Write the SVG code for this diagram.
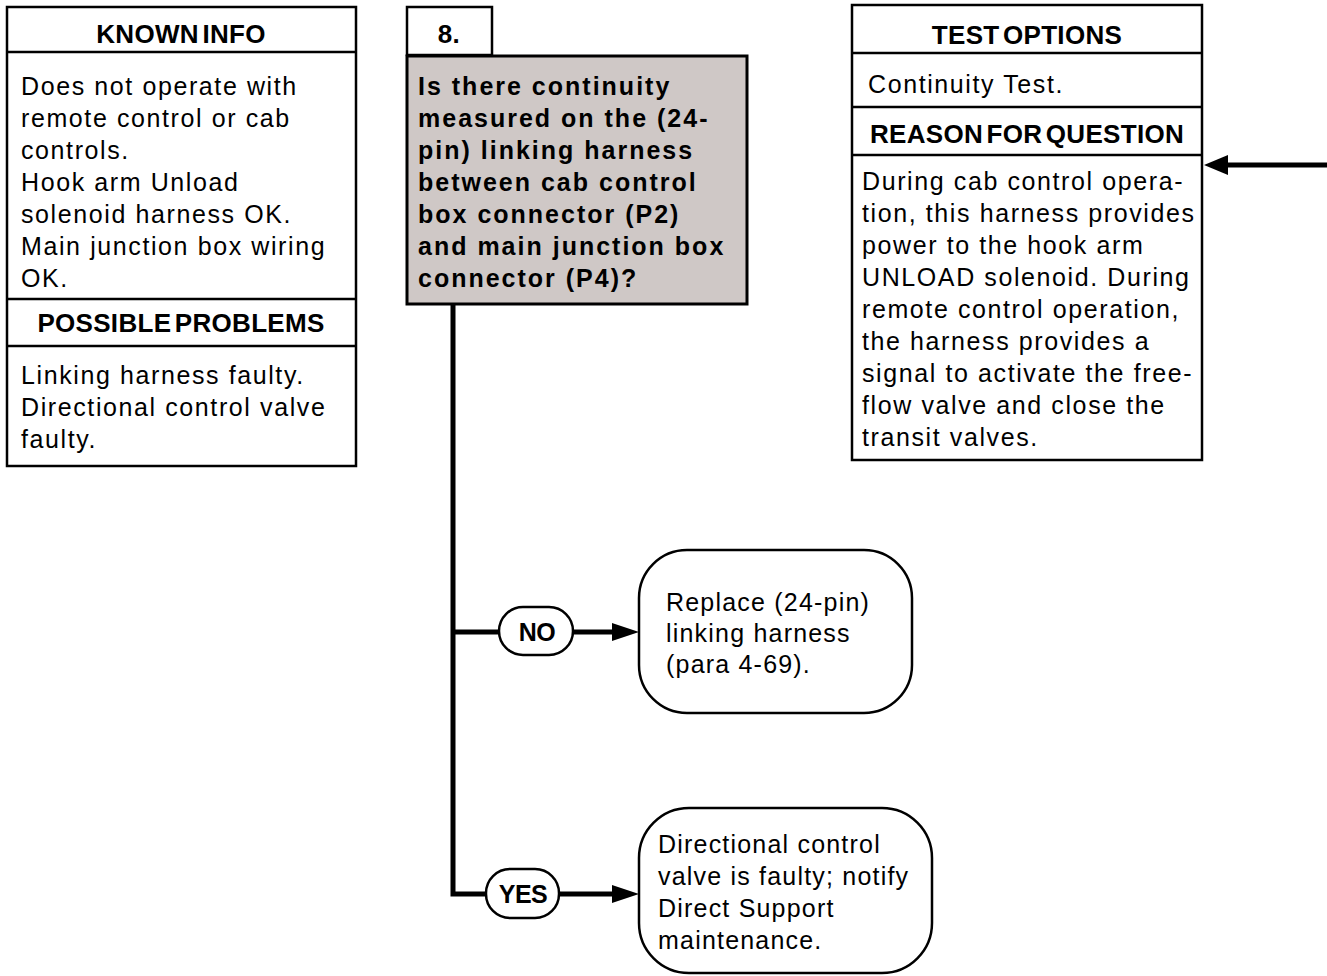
<svg xmlns="http://www.w3.org/2000/svg" width="1327" height="976" viewBox="0 0 1327 976">
<style>
.box{fill:#fff;stroke:#000;stroke-width:2.5}
.div{stroke:#000;stroke-width:2.5}
.q{fill:#cfc8c6;stroke:#000;stroke-width:3}
.pill{fill:#fff;stroke:#000;stroke-width:2.5}
.res{fill:#fff;stroke:#000;stroke-width:2.5}
.wire{stroke:#000;stroke-width:5;fill:none}
.h{font-family:"Liberation Sans",Arial,sans-serif;font-weight:bold;font-size:26px;text-anchor:middle;letter-spacing:0.3px;word-spacing:-4px}
.t{font-family:"Liberation Sans",Arial,sans-serif;font-size:25px;letter-spacing:1.6px}
.b{font-family:"Liberation Sans",Arial,sans-serif;font-weight:bold;font-size:25px;letter-spacing:2px}
.r{font-family:"Liberation Sans",Arial,sans-serif;font-size:25px;letter-spacing:1.2px}
.lbl{font-family:"Liberation Sans",Arial,sans-serif;font-weight:bold;font-size:25px;text-anchor:middle;letter-spacing:-0.5px}
</style>
<rect width="1327" height="976" fill="#fff"/>
<g id="known-info">
<rect class="box" x="7" y="7" width="349" height="459"/>
<line class="div" x1="7" y1="52" x2="356" y2="52"/>
<line class="div" x1="7" y1="299" x2="356" y2="299"/>
<line class="div" x1="7" y1="346" x2="356" y2="346"/>
<text class="h" x="181" y="43">KNOWN INFO</text>
<text class="t"><tspan x="21" y="95">Does not operate with</tspan><tspan x="21" y="127">remote control or cab</tspan><tspan x="21" y="159">controls.</tspan><tspan x="21" y="191">Hook arm Unload</tspan><tspan x="21" y="223">solenoid harness OK.</tspan><tspan x="21" y="255">Main junction box wiring</tspan><tspan x="21" y="287">OK.</tspan></text>
<text class="h" x="181" y="332">POSSIBLE PROBLEMS</text>
<text class="t"><tspan x="21" y="384">Linking harness faulty.</tspan><tspan x="21" y="416">Directional control valve</tspan><tspan x="21" y="448">faulty.</tspan></text>
</g>
<g id="step-number">
<rect class="box" x="407" y="7" width="85" height="48"/>
<text class="h" x="449" y="43">8.</text>
</g>
<g id="question">
<rect class="q" x="407" y="56" width="340" height="248"/>
<text class="b"><tspan x="418" y="95">Is there continuity</tspan><tspan x="418" y="127">measured on the (24-</tspan><tspan x="418" y="159">pin) linking harness</tspan><tspan x="418" y="191">between cab control</tspan><tspan x="418" y="223">box connector (P2)</tspan><tspan x="418" y="255">and main junction box</tspan><tspan x="418" y="287">connector (P4)?</tspan></text>
</g>
<g id="test-options">
<rect class="box" x="852" y="5" width="350" height="455"/>
<line class="div" x1="852" y1="53" x2="1202" y2="53"/>
<line class="div" x1="852" y1="107" x2="1202" y2="107"/>
<line class="div" x1="852" y1="155" x2="1202" y2="155"/>
<text class="h" x="1027" y="44">TEST OPTIONS</text>
<text class="t" x="868" y="93">Continuity Test.</text>
<text class="h" x="1027" y="143">REASON FOR QUESTION</text>
<text class="t"><tspan x="862" y="190">During cab control opera-</tspan><tspan x="862" y="222">tion, this harness provides</tspan><tspan x="862" y="254">power to the hook arm</tspan><tspan x="862" y="286">UNLOAD solenoid.  During</tspan><tspan x="862" y="318">remote control operation,</tspan><tspan x="862" y="350">the harness provides a</tspan><tspan x="862" y="382">signal to activate the free-</tspan><tspan x="862" y="414">flow valve and close the</tspan><tspan x="862" y="446">transit valves.</tspan></text>
</g>
<g id="connectors">
<line class="wire" x1="1327" y1="165" x2="1222" y2="165"/>
<polygon points="1204,165 1228,155 1228,175" fill="#000"/>
<polyline class="wire" points="453,303 453,894 486,894"/>
<line class="wire" x1="453" y1="632" x2="499" y2="632"/>
<line class="wire" x1="573" y1="632" x2="614" y2="632"/>
<polygon points="639,632 612,623 612,641" fill="#000"/>
<line class="wire" x1="559" y1="894" x2="614" y2="894"/>
<polygon points="639,894 612,885 612,903" fill="#000"/>
</g>
<g id="no-label">
<rect class="pill" x="499" y="607" width="74" height="48" rx="24"/>
<text class="lbl" x="537" y="641">NO</text>
</g>
<g id="yes-label">
<rect class="pill" x="486" y="869" width="73" height="49" rx="24"/>
<text class="lbl" x="523" y="903">YES</text>
</g>
<g id="no-result">
<rect class="res" x="639" y="550" width="273" height="163" rx="48"/>
<text class="r"><tspan x="666" y="611">Replace (24-pin)</tspan><tspan x="666" y="642">linking harness</tspan><tspan x="666" y="673">(para 4-69).</tspan></text>
</g>
<g id="yes-result">
<rect class="res" x="639" y="808" width="293" height="165" rx="50"/>
<text class="r"><tspan x="658" y="853">Directional control</tspan><tspan x="658" y="885">valve is faulty; notify</tspan><tspan x="658" y="917">Direct Support</tspan><tspan x="658" y="949">maintenance.</tspan></text>
</g>
</svg>
